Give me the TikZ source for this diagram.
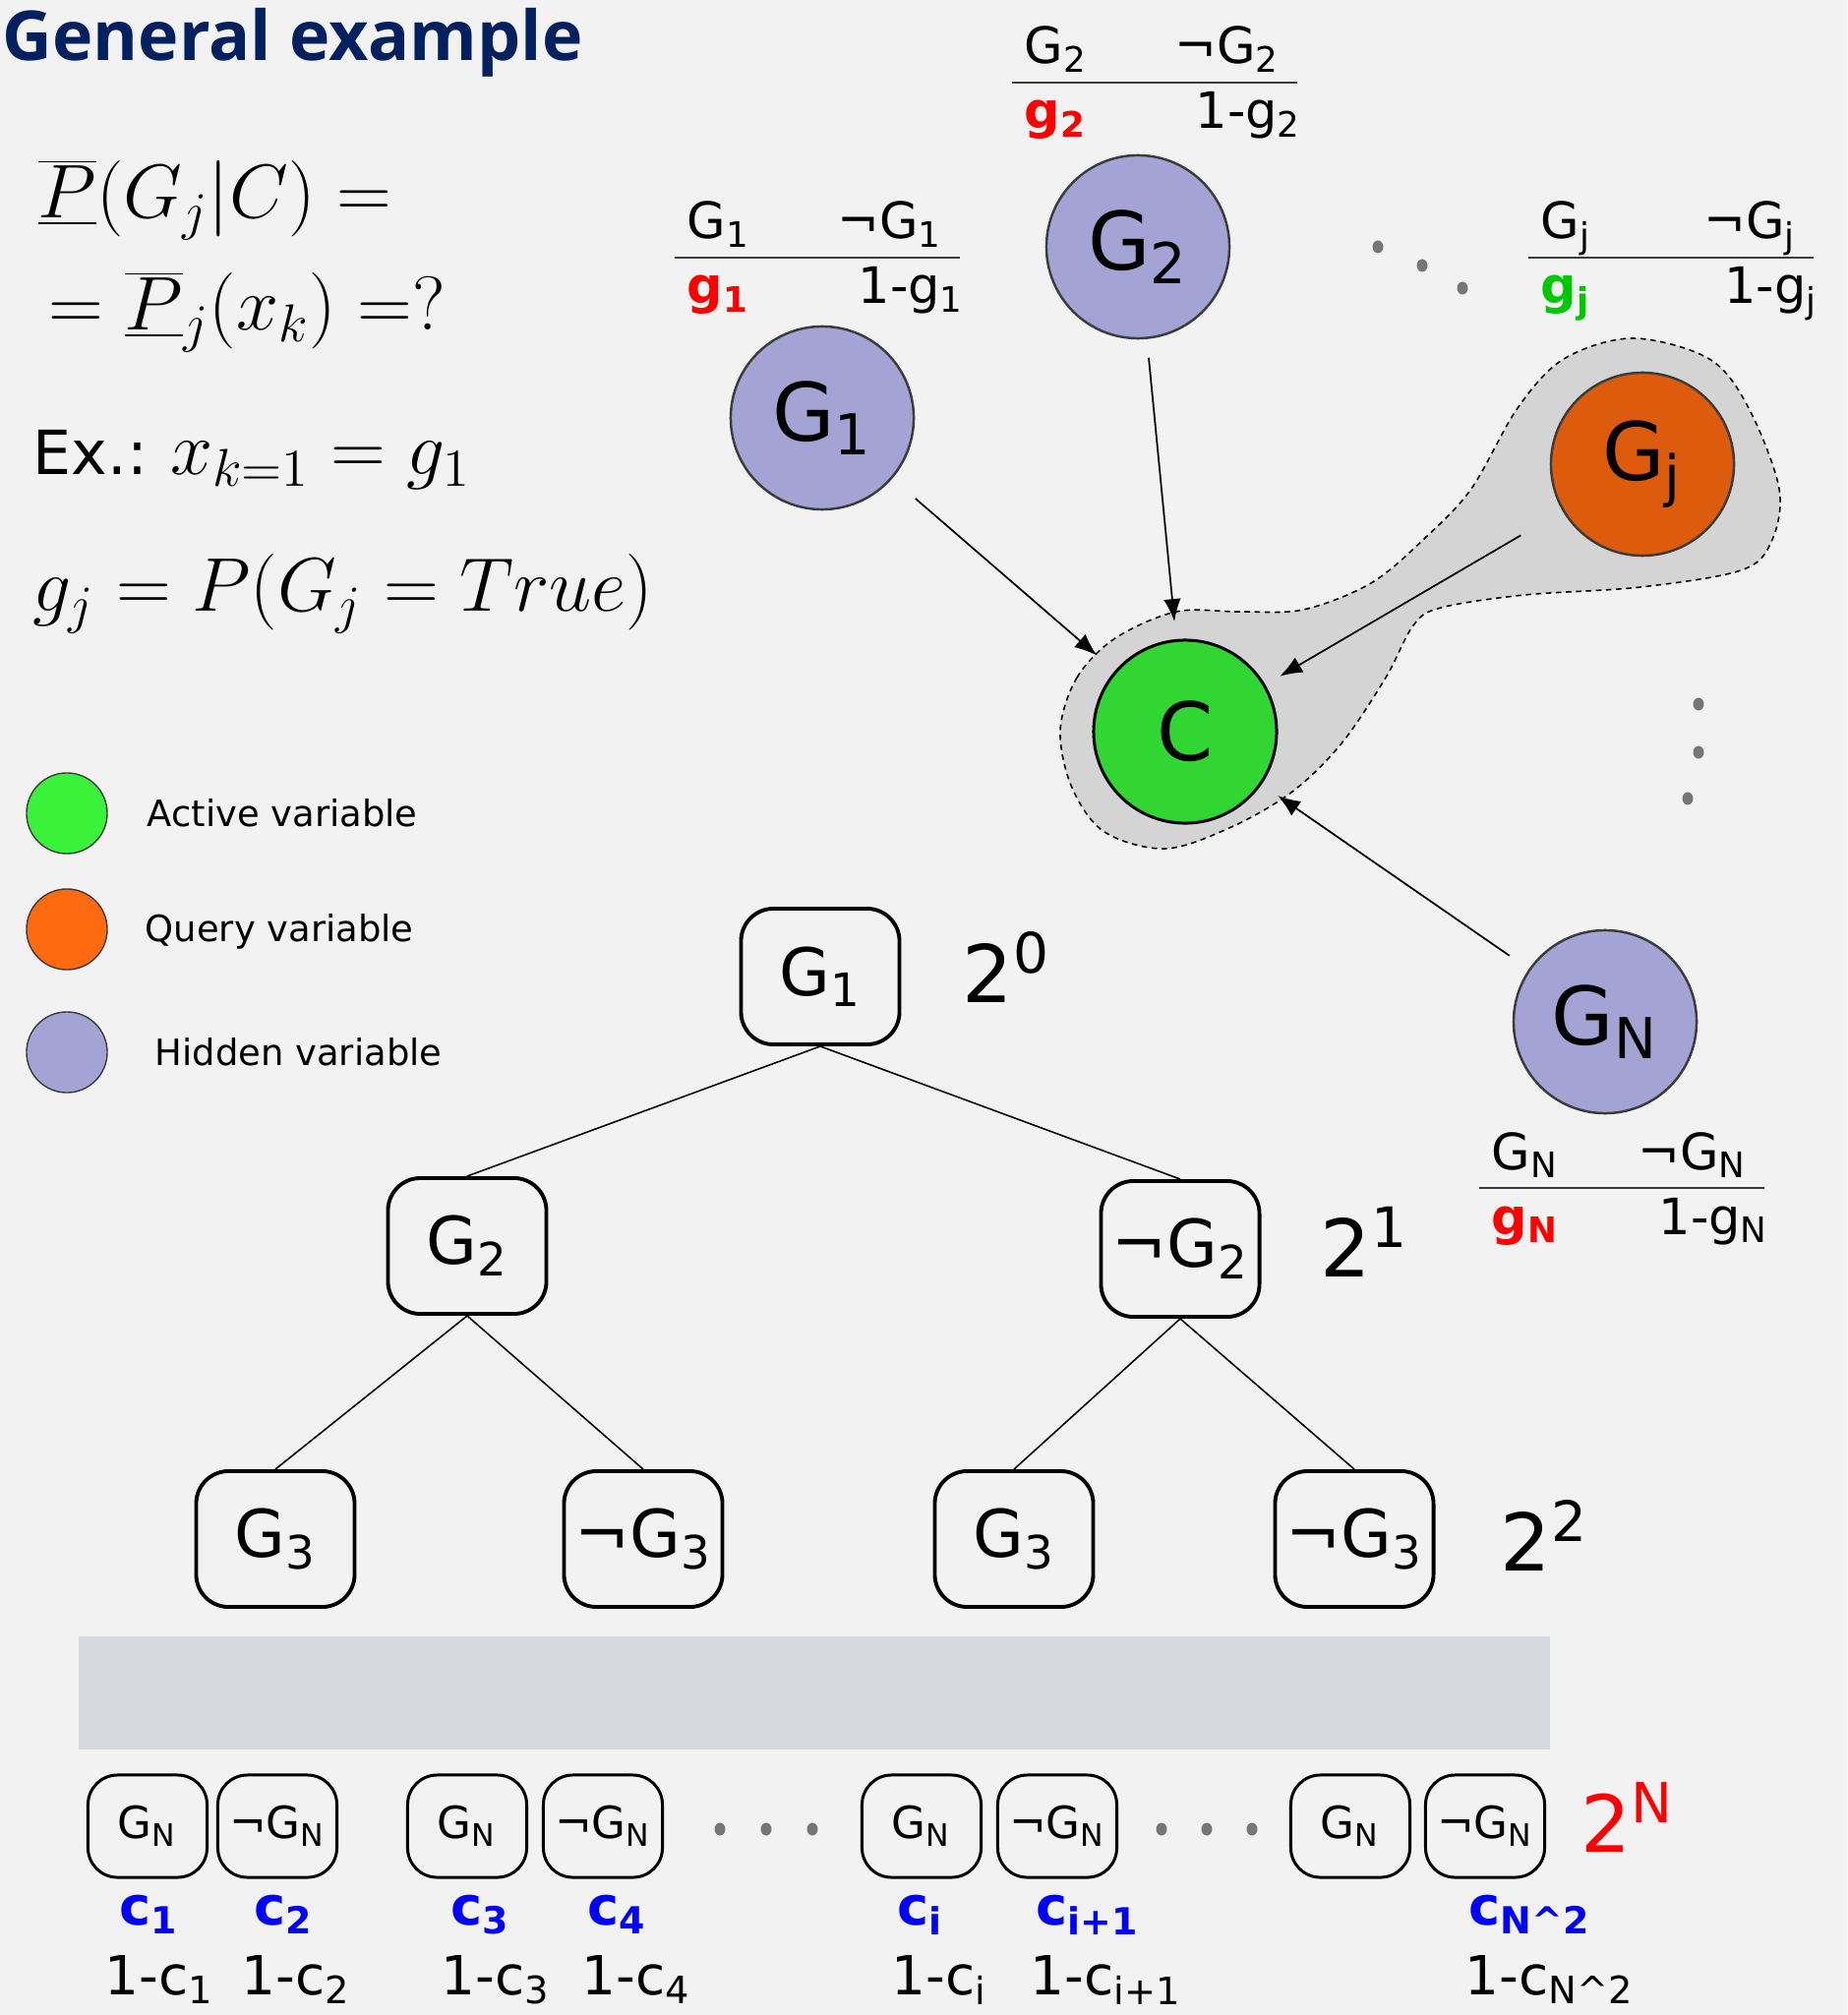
\RequirePackage{fix-cm}
\documentclass[tikz,border=0pt]{standalone}
\usepackage{fontspec}
\setsansfont{DejaVu Sans}
\newfontfamily\titlefont{Open Sans}
\usetikzlibrary{arrows.meta,calc}

\definecolor{bggray}{RGB}{242,242,242}
\definecolor{titleblue}{RGB}{0,32,96}
\definecolor{hidblue}{RGB}{163,163,213}
\definecolor{gjorange}{RGB}{221,91,12}
\definecolor{cgreen}{RGB}{50,214,50}
\definecolor{actgreen}{RGB}{58,242,58}
\definecolor{qryorange}{RGB}{255,106,16}
\definecolor{rimgray}{RGB}{60,60,60}
\definecolor{blobgray}{RGB}{212,212,212}
\definecolor{bandgray}{RGB}{216,216,223}
\definecolor{dotgray}{RGB}{118,118,118}
\definecolor{gjgreen}{RGB}{0,200,0}
\definecolor{cblue}{RGB}{0,0,255}

\begin{document}
\begin{tikzpicture}[x=0.01cm, y=-0.01cm, >={Latex[length=6.5pt,width=5pt]}, font=\sffamily]
  \tikzstyle{varnode} = [circle, minimum size=1.86cm, inner sep=0pt, draw=rimgray, line width=0.7pt,
                         font=\sffamily\fontsize{23.3}{28}\selectfont]
  \tikzstyle{hid} = [varnode, fill=hidblue]
  \tikzstyle{lgd} = [circle, minimum size=0.82cm, inner sep=0pt, draw=rimgray, line width=0.4pt]
  \tikzstyle{lgdtxt} = [anchor=base west, inner sep=0pt, font=\sffamily\fontsize{10.5}{13}\selectfont]
  \tikzstyle{formula} = [anchor=base west, inner sep=0pt, font=\fontsize{22}{26}\selectfont]
  \tikzstyle{tabtxt} = [inner sep=0pt, font=\sffamily\fontsize{14.5}{17}\selectfont]
  \tikzstyle{tabline} = [draw=rimgray, line width=0.6pt]
  \tikzstyle{tbox} = [draw, line width=1.1pt, rounded corners=0.33cm, minimum width=1.61cm,
                      minimum height=1.38cm, inner sep=0pt, font=\sffamily\fontsize{19}{23}\selectfont]
  \tikzstyle{cbox} = [draw, line width=0.85pt, rounded corners=0.3cm, minimum width=1.21cm,
                      minimum height=1.04cm, inner sep=0pt, font=\sffamily\fontsize{12.8}{15}\selectfont]
  \tikzstyle{pow} = [anchor=base west, inner sep=0pt, font=\sffamily\fontsize{23}{28}\selectfont]
  \tikzstyle{cval} = [anchor=base west, inner sep=0pt, text=cblue, font=\sffamily\bfseries\fontsize{15.4}{18}\selectfont]
  \tikzstyle{qval} = [anchor=base west, inner sep=0pt, font=\sffamily\fontsize{15.6}{19}\selectfont]
  \tikzstyle{treeline} = [line width=0.45pt]
  \tikzstyle{arr} = [->, line width=0.5pt]

  \fill[bggray] (0,0) rectangle (1878,2049);
  \useasboundingbox (0,0) rectangle (1878,2049);

  % title and formulas
  \node[anchor=base west, inner sep=0pt, text=titleblue, font=\titlefont\bfseries\fontsize{19.9}{24}\selectfont]
    (title) at (2,62) {General example};
  \node[formula] (f1) at (38,222) {$\underline{\overline{P}}\bigl(G_j\big|C\bigr) =$};
  \node[formula] (f2) at (49,336) {$=\underline{\overline{P}}_j(x_k) =?$};
  \node[formula] (f3) at (33,483) {{\sffamily\fontsize{17.6}{21}\selectfont Ex.:}\ $x_{k=1} = g_1$};
  \node[formula] (f4) at (33,622) {$g_j = P(G_j = True)$};

  % legend
  \node[lgd, fill=actgreen] (la) at (68,827) {};
  \node[lgdtxt] (lat) at (149,840) {Active variable};
  \node[lgd, fill=qryorange] (lq) at (68,945) {};
  \node[lgdtxt] (lqt) at (147,957) {Query variable};
  \node[lgd, fill=hidblue] (lh) at (68,1070) {};
  \node[lgdtxt] (lht) at (157,1083) {Hidden variable};

  % shaded region round C and Gj
  \draw[fill=blobgray, dashed, dash pattern=on 1.6pt off 1.3pt, line width=0.45pt]
    plot[smooth cycle, tension=0.55] coordinates {(1078,743) (1095,689) (1134,649) (1196,622) (1260,622)
      (1325,620) (1394,593) (1449,547) (1496,497) (1543,415) (1590,365) (1660,344) (1738,365) (1778,415)
      (1809,497) (1801,551) (1770,580) (1668,597) (1550,605) (1465,618) (1437,636) (1409,689) (1364,756)
      (1314,805) (1252,841) (1185,863) (1123,846) (1090,801)};

  % network
  \node[hid] (g1) at (836,425) {G\textsubscript{1}};
  \node[hid] (g2) at (1157,251) {G\textsubscript{2}};
  \node[varnode, fill=gjorange] (gj) at (1670,472) {G\textsubscript{j}};
  \node[varnode, fill=cgreen, draw=black, line width=0.85pt] (c) at (1205,744) {C};
  \node[hid] (gn) at (1632,1039) {G\textsubscript{N}};

  \draw[arr, shorten <=0.31cm, shorten >=0.24cm] (g1) -- (c);
  \draw[arr, shorten <=0.19cm, shorten >=0.18cm] (g2) -- (c);
  \draw[arr, shorten <=0.49cm, shorten >=0.17cm] (gj) -- (c);
  \draw[arr, shorten <=0.24cm, shorten >=0.20cm] (gn) -- (c);

  % probability tables
  \foreach \nm/\lx/\ly/\s/\gc in {ta/686/262/1/red, tb/1029/84/2/red, tc/1554/262/j/gjgreen, td/1504/1208/N/red}{
    \draw[tabline] (\lx,\ly) coordinate (\nm-a) -- ++(290,0) coordinate (\nm-b);
    \node[tabtxt, anchor=base west] (\nm-t) at ($(\nm-a)+(12,-19)$) {G\textsubscript{\s}};
    \node[tabtxt, anchor=base east] (\nm-f) at ($(\nm-a)+(273,-19)$) {¬G\textsubscript{\s}};
    \node[tabtxt, anchor=base west, text=\gc] (\nm-p) at ($(\nm-a)+(12,47)$) {\bfseries g\textsubscript{\s}};
    \node[tabtxt, anchor=base east] (\nm-q) at ($(\nm-a)+(295,47)$) {1-g\textsubscript{\s}};
  }

  \foreach \p in {(1401,251),(1446,270),(1487,293),(1727,716),(1727,765),(1716,812),
                  (732,1860),(779,1860),(826,1860),(1181,1860),(1227,1860),(1273,1860)}
    \fill[dotgray] \p ellipse (0.055cm and 0.065cm);

  % tree
  \node[tbox] (t1) at (834,993) {G\textsubscript{1}};
  \node[tbox] (t2) at (475,1267) {G\textsubscript{2}};
  \node[tbox] (t3) at (1200,1270) {¬G\textsubscript{2}};
  \node[tbox] (t4) at (280,1565) {G\textsubscript{3}};
  \node[tbox] (t5) at (654,1565) {¬G\textsubscript{3}};
  \node[tbox] (t6) at (1031,1565) {G\textsubscript{3}};
  \node[tbox] (t7) at (1377,1565) {¬G\textsubscript{3}};

  \draw[treeline] (t1.south) -- (t2.north);
  \draw[treeline] (t1.south) -- (t3.north);
  \draw[treeline] (t2.south) -- (t4.north);
  \draw[treeline] (t2.south) -- (t5.north);
  \draw[treeline] (t3.south) -- (t6.north);
  \draw[treeline] (t3.south) -- (t7.north);

  \node[pow] (p0) at (978,1019) {2\textsuperscript{0}};
  \node[pow] (p1) at (1342,1298) {2\textsuperscript{1}};
  \node[pow] (p2) at (1525,1597) {2\textsuperscript{2}};

  % leaves
  \fill[bandgray] (80,1664) rectangle (1576,1779);

  \foreach \i/\x/\t in {1/150/G, 2/282/¬G, 3/475/G, 4/613/¬G, 5/937/G, 6/1075/¬G, 7/1373/G, 8/1510/¬G}
    \node[cbox] (b\i) at (\x,1857) {\t\textsubscript{N}};

  \node[pow, text=red, font=\sffamily\fontsize{22.8}{27}\selectfont] (pn) at (1607,1883) {2\textsuperscript{N}};

  \foreach \i/\x/\s in {1/121/1, 2/258/2, 3/458/3, 4/597/4, 5/912/i, 6/1053/i+1, 7/1493/N\textasciicircum 2}
    \node[cval] (c\i) at (\x,1957) {c\textsubscript{\s}};
  \foreach \i/\x/\s in {1/106/1, 2/245/2, 3/448/3, 4/591/4, 5/906/i, 6/1047/i+1, 7/1489/N\textasciicircum 2}
    \node[qval] (q\i) at (\x,2028) {1-c\textsubscript{\s}};
\end{tikzpicture}
\end{document}
